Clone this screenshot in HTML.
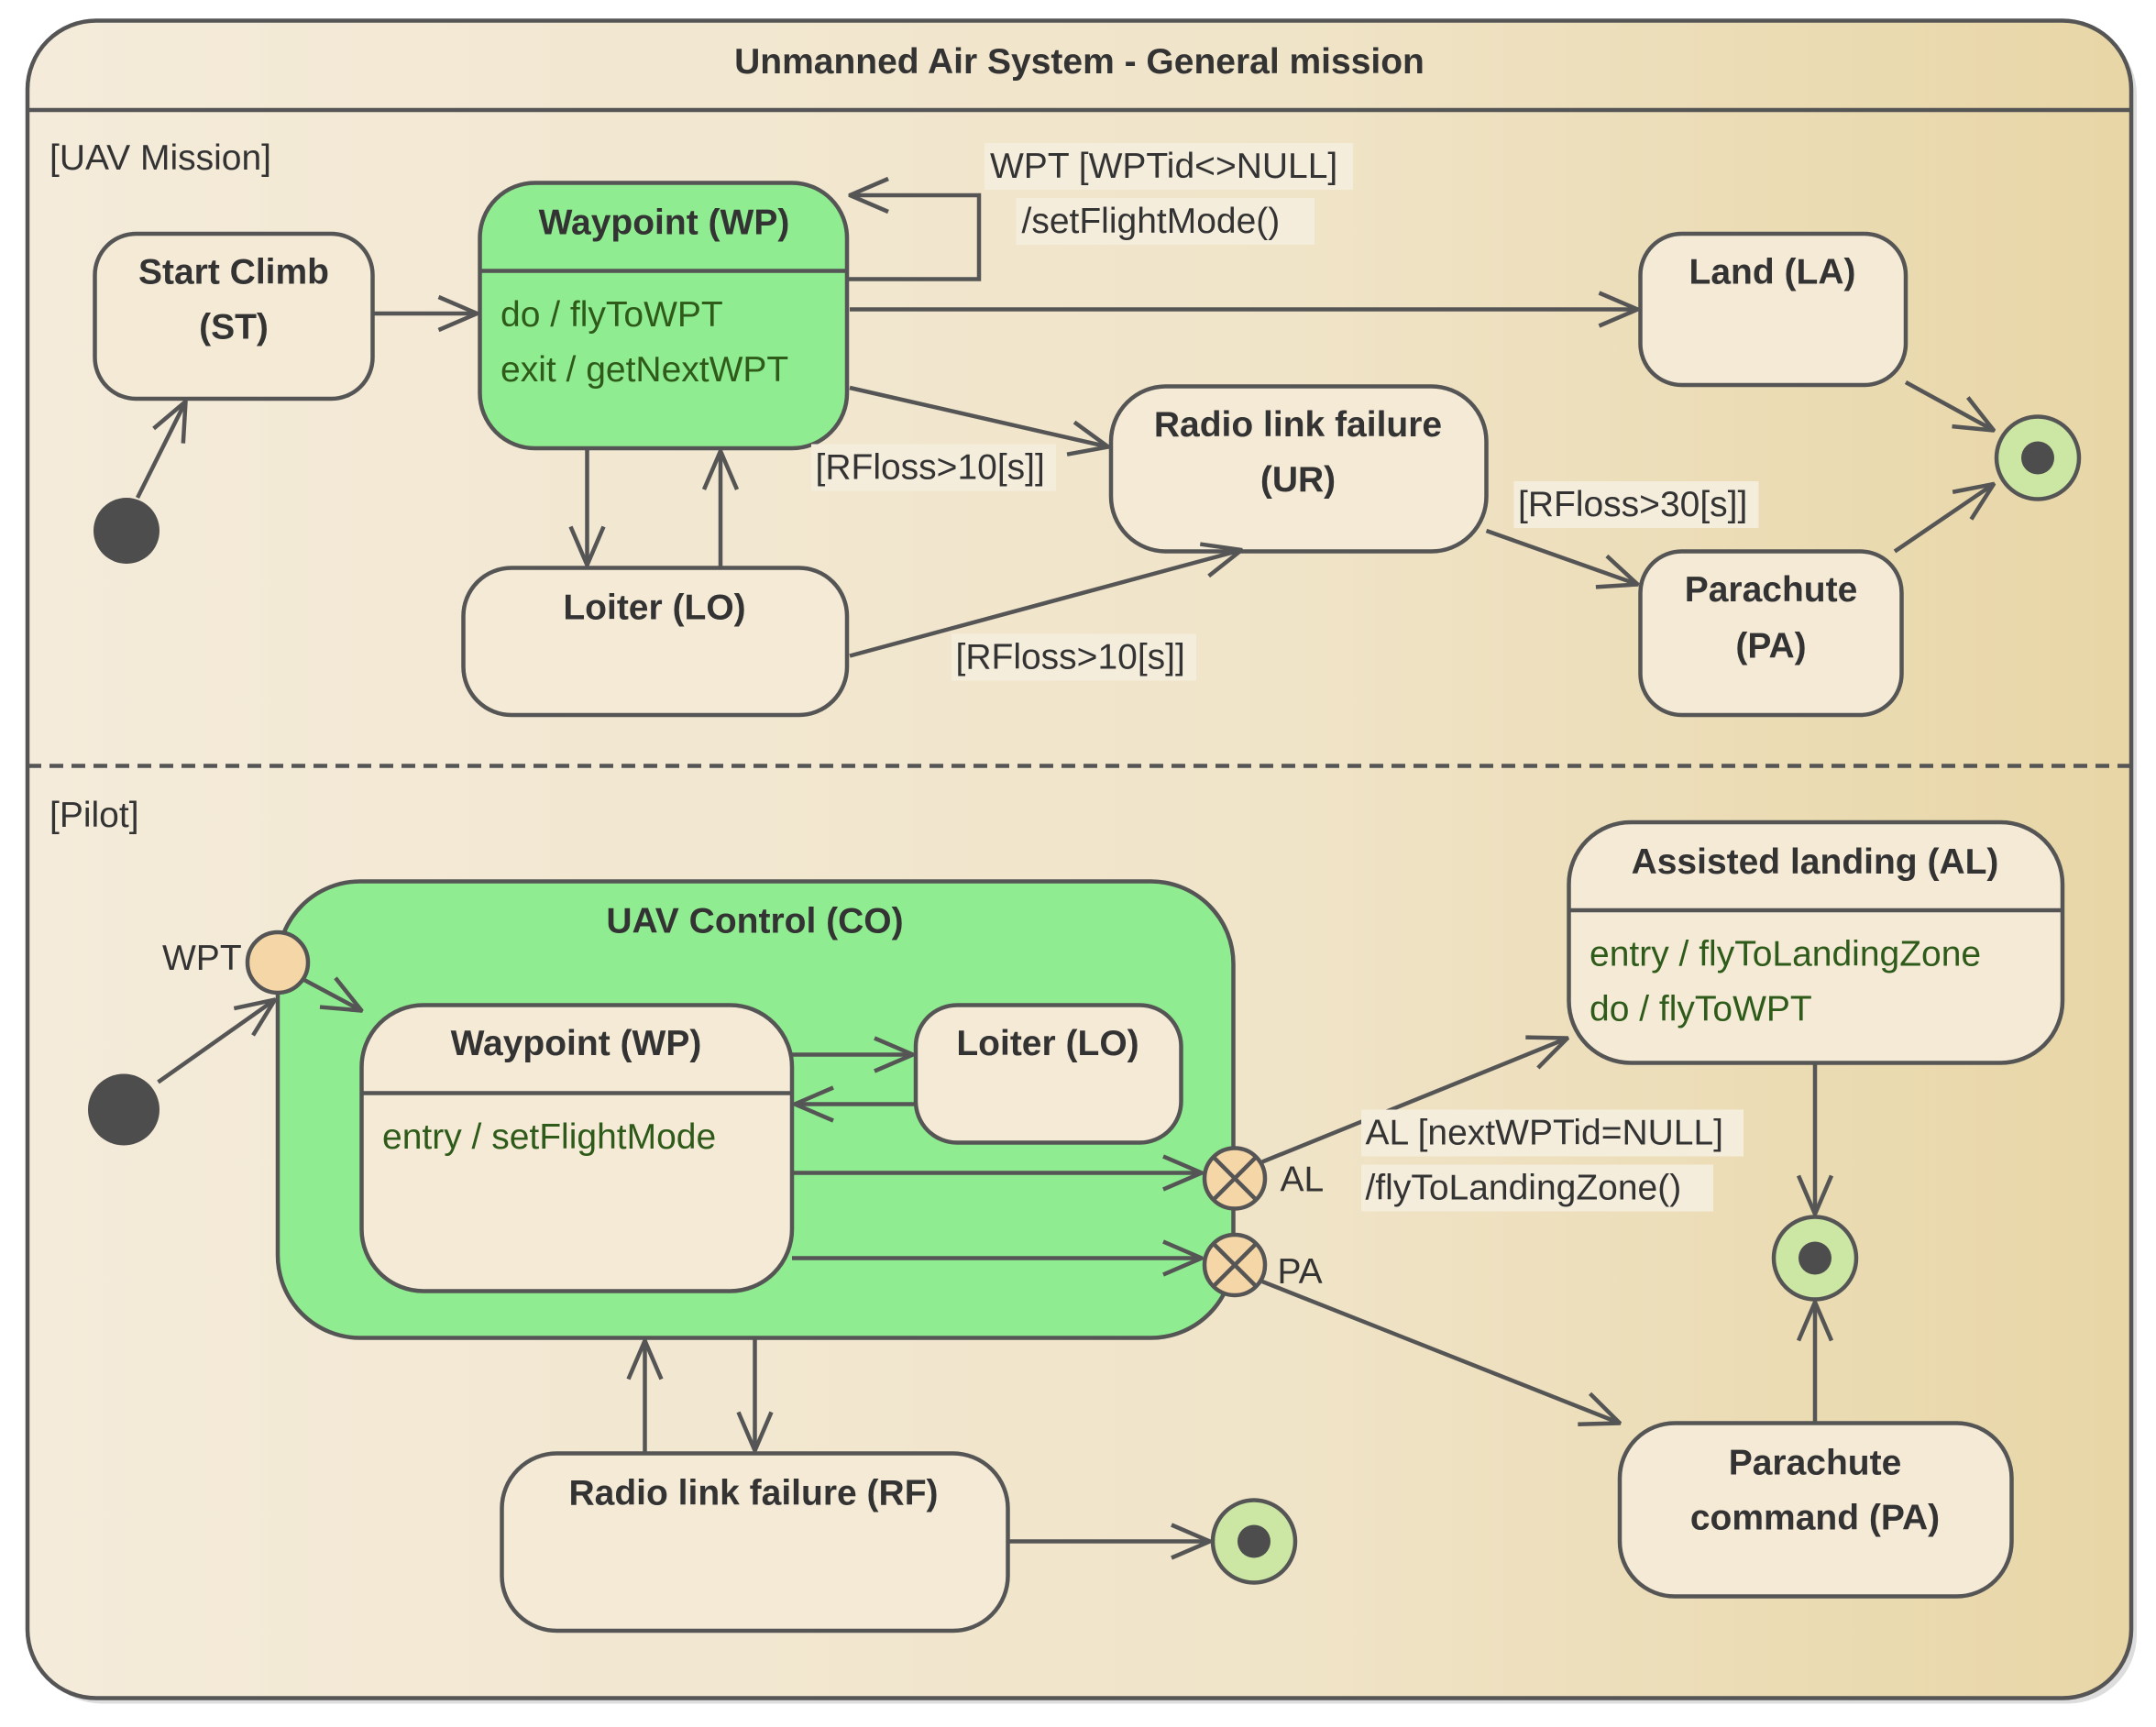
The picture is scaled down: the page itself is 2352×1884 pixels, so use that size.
<!DOCTYPE html>
<html><head><meta charset="utf-8"><style>
html,body{margin:0;padding:0;background:#fff;}
svg{display:block;}
text{font-family:"Liberation Sans",sans-serif;font-size:26px;fill:#333;dominant-baseline:central;}
.b{font-weight:bold;}
.c{text-anchor:middle;}
.g{fill:#2e5a1a;}
</style></head><body>
<svg width="2352" height="1884" viewBox="0 0 1568 1256" xmlns="http://www.w3.org/2000/svg">
<defs>
<linearGradient id="bg" x1="0" y1="0" x2="1" y2="0">
<stop offset="0" stop-color="#f4ebda"/><stop offset="0.6" stop-color="#f0e4c8"/><stop offset="1" stop-color="#e8d6a6"/>
</linearGradient>
<marker id="a" viewBox="0 0 30 30" refX="29" refY="15" markerWidth="30" markerHeight="30" markerUnits="userSpaceOnUse" orient="auto">
<path d="M1,3 L29,15 L1,27" fill="none" stroke="#555" stroke-width="3"/>
</marker>
</defs>
<rect x="24" y="19" width="1530" height="1220" rx="50" fill="#ddd"/>
<rect x="20" y="15" width="1530" height="1220" rx="50" fill="url(#bg)" stroke="#555" stroke-width="3"/>
<line x1="20" y1="80" x2="1550" y2="80" stroke="#555" stroke-width="3"/>
<text x="785" y="45" class="b c">Unmanned Air System - General mission</text>
<line x1="20" y1="557" x2="1550" y2="557" stroke="#555" stroke-width="3" stroke-dasharray="10,6"/>
<text x="36" y="115">[UAV Mission]</text>
<text x="36" y="593">[Pilot]</text>

<g stroke="#555" stroke-width="3">
<!-- top section states -->
<rect x="69" y="170" width="202" height="120" rx="30" fill="#f4ead6"/>
<rect x="349" y="133" width="267" height="193" rx="40" fill="#90ec90"/>
<line x1="349" y1="197" x2="616" y2="197"/>
<rect x="1193" y="170" width="193" height="110" rx="30" fill="#f4ead6"/>
<rect x="808" y="281" width="273" height="120" rx="40" fill="#f4ead6"/>
<rect x="337" y="413" width="279" height="107" rx="35" fill="#f4ead6"/>
<rect x="1193" y="401" width="190" height="119" rx="30" fill="#f4ead6"/>
<circle cx="1482" cy="333" r="30" fill="#cce6a4"/>
<circle cx="1482" cy="333" r="12" fill="#4d4d4d" stroke="none"/>
<circle cx="92" cy="386" r="24" fill="#4d4d4d" stroke="none"/>

<!-- top arrows -->
<g fill="none" marker-end="url(#a)">
<line x1="100" y1="362" x2="135" y2="292"/>
<line x1="271" y1="228" x2="347" y2="228"/>
<polyline points="616,203 712,203 712,142 618,142"/>
<line x1="618" y1="225" x2="1191" y2="225"/>
<line x1="618" y1="282" x2="806" y2="325"/>
<line x1="427" y1="326" x2="427" y2="411"/>
<line x1="524" y1="413" x2="524" y2="328"/>
<line x1="618" y1="477" x2="903" y2="400"/>
<line x1="1081" y1="386" x2="1191" y2="425"/>
<line x1="1386" y1="278" x2="1450" y2="313"/>
<line x1="1378" y1="401" x2="1450" y2="352"/>
</g>

<!-- pilot section -->
<rect x="202" y="641" width="695" height="332" rx="60" fill="#90ec90"/>
<rect x="263" y="731" width="313" height="208" rx="45" fill="#f4ead6"/>
<line x1="263" y1="795" x2="576" y2="795"/>
<rect x="666" y="731" width="193" height="100" rx="30" fill="#f4ead6"/>
<rect x="1141" y="598" width="359" height="175" rx="45" fill="#f4ead6"/>
<line x1="1141" y1="662" x2="1500" y2="662"/>
<rect x="1178" y="1035" width="285" height="126" rx="40" fill="#f4ead6"/>
<rect x="365" y="1057" width="368" height="129" rx="40" fill="#f4ead6"/>
<circle cx="90" cy="807" r="26" fill="#4d4d4d" stroke="none"/>
<circle cx="1320" cy="915" r="30" fill="#cce6a4"/>
<circle cx="1320" cy="915" r="12" fill="#4d4d4d" stroke="none"/>
<circle cx="912" cy="1121" r="30" fill="#cce6a4"/>
<circle cx="912" cy="1121" r="12" fill="#4d4d4d" stroke="none"/>

<g fill="none" marker-end="url(#a)">
<line x1="115" y1="787" x2="200" y2="727"/>
<line x1="220" y1="712" x2="263" y2="735"/>
<line x1="576" y1="767" x2="664" y2="767"/>
<line x1="666" y1="803" x2="578" y2="803"/>
<line x1="576" y1="853" x2="874" y2="853"/>
<line x1="576" y1="915" x2="874" y2="915"/>
<line x1="918" y1="845" x2="1140" y2="755"/>
<line x1="918" y1="932" x2="1178" y2="1035"/>
<line x1="1320" y1="773" x2="1320" y2="883"/>
<line x1="1320" y1="1035" x2="1320" y2="947"/>
<line x1="469" y1="1057" x2="469" y2="975"/>
<line x1="549" y1="973" x2="549" y2="1055"/>
<line x1="733" y1="1121" x2="880" y2="1121"/>
</g>

<circle cx="202" cy="700" r="22" fill="#f5d6a6"/>
<circle cx="898" cy="857" r="22" fill="#f5d6a6"/>
<line x1="883" y1="842" x2="913" y2="872"/><line x1="913" y1="842" x2="883" y2="872"/>
<circle cx="898" cy="920" r="22" fill="#f5d6a6"/>
<line x1="883" y1="905" x2="913" y2="935"/><line x1="913" y1="905" x2="883" y2="935"/>
</g>

<!-- label backgrounds -->
<g fill="#f5eddc">
<rect x="716" y="104" width="268" height="34"/>
<rect x="739" y="144" width="217" height="34"/>
<rect x="590" y="323" width="178" height="34"/>
<rect x="692" y="461" width="178" height="34"/>
<rect x="1101" y="350" width="178" height="34"/>
<rect x="990" y="807" width="278" height="34"/>
<rect x="990" y="847" width="256" height="34"/>
</g>

<!-- top texts -->
<text x="170" y="198" class="b c">Start Climb</text>
<text x="170" y="238" class="b c">(ST)</text>
<text x="483" y="162" class="b c">Waypoint (WP)</text>
<text x="364" y="229" class="g">do / flyToWPT</text>
<text x="364" y="269" class="g">exit / getNextWPT</text>
<text x="720" y="121">WPT [WPTid&lt;&gt;NULL]</text>
<text x="743" y="161">/setFlightMode()</text>
<text x="1289" y="198" class="b c">Land (LA)</text>
<text x="944" y="309" class="b c">Radio link failure</text>
<text x="944" y="349" class="b c">(UR)</text>
<text x="593" y="340">[RFloss&gt;10[s]]</text>
<text x="476" y="442" class="b c">Loiter (LO)</text>
<text x="695" y="478">[RFloss&gt;10[s]]</text>
<text x="1104" y="367">[RFloss&gt;30[s]]</text>
<text x="1288" y="429" class="b c">Parachute</text>
<text x="1288" y="470" class="b c">(PA)</text>

<!-- pilot texts -->
<text x="549" y="670" class="b c">UAV Control (CO)</text>
<text x="118" y="697">WPT</text>
<text x="419" y="759" class="b c">Waypoint (WP)</text>
<text x="278" y="827" class="g">entry / setFlightMode</text>
<text x="762" y="759" class="b c">Loiter (LO)</text>
<text x="931" y="858">AL</text>
<text x="929" y="925">PA</text>
<text x="993" y="824">AL [nextWPTid=NULL]</text>
<text x="993" y="864">/flyToLandingZone()</text>
<text x="1320" y="627" class="b c">Assisted landing (AL)</text>
<text x="1156" y="694" class="g">entry / flyToLandingZone</text>
<text x="1156" y="734" class="g">do / flyToWPT</text>
<text x="1320" y="1064" class="b c">Parachute</text>
<text x="1320" y="1104" class="b c">command (PA)</text>
<text x="548" y="1086" class="b c">Radio link failure (RF)</text>
</svg>
</body></html>
